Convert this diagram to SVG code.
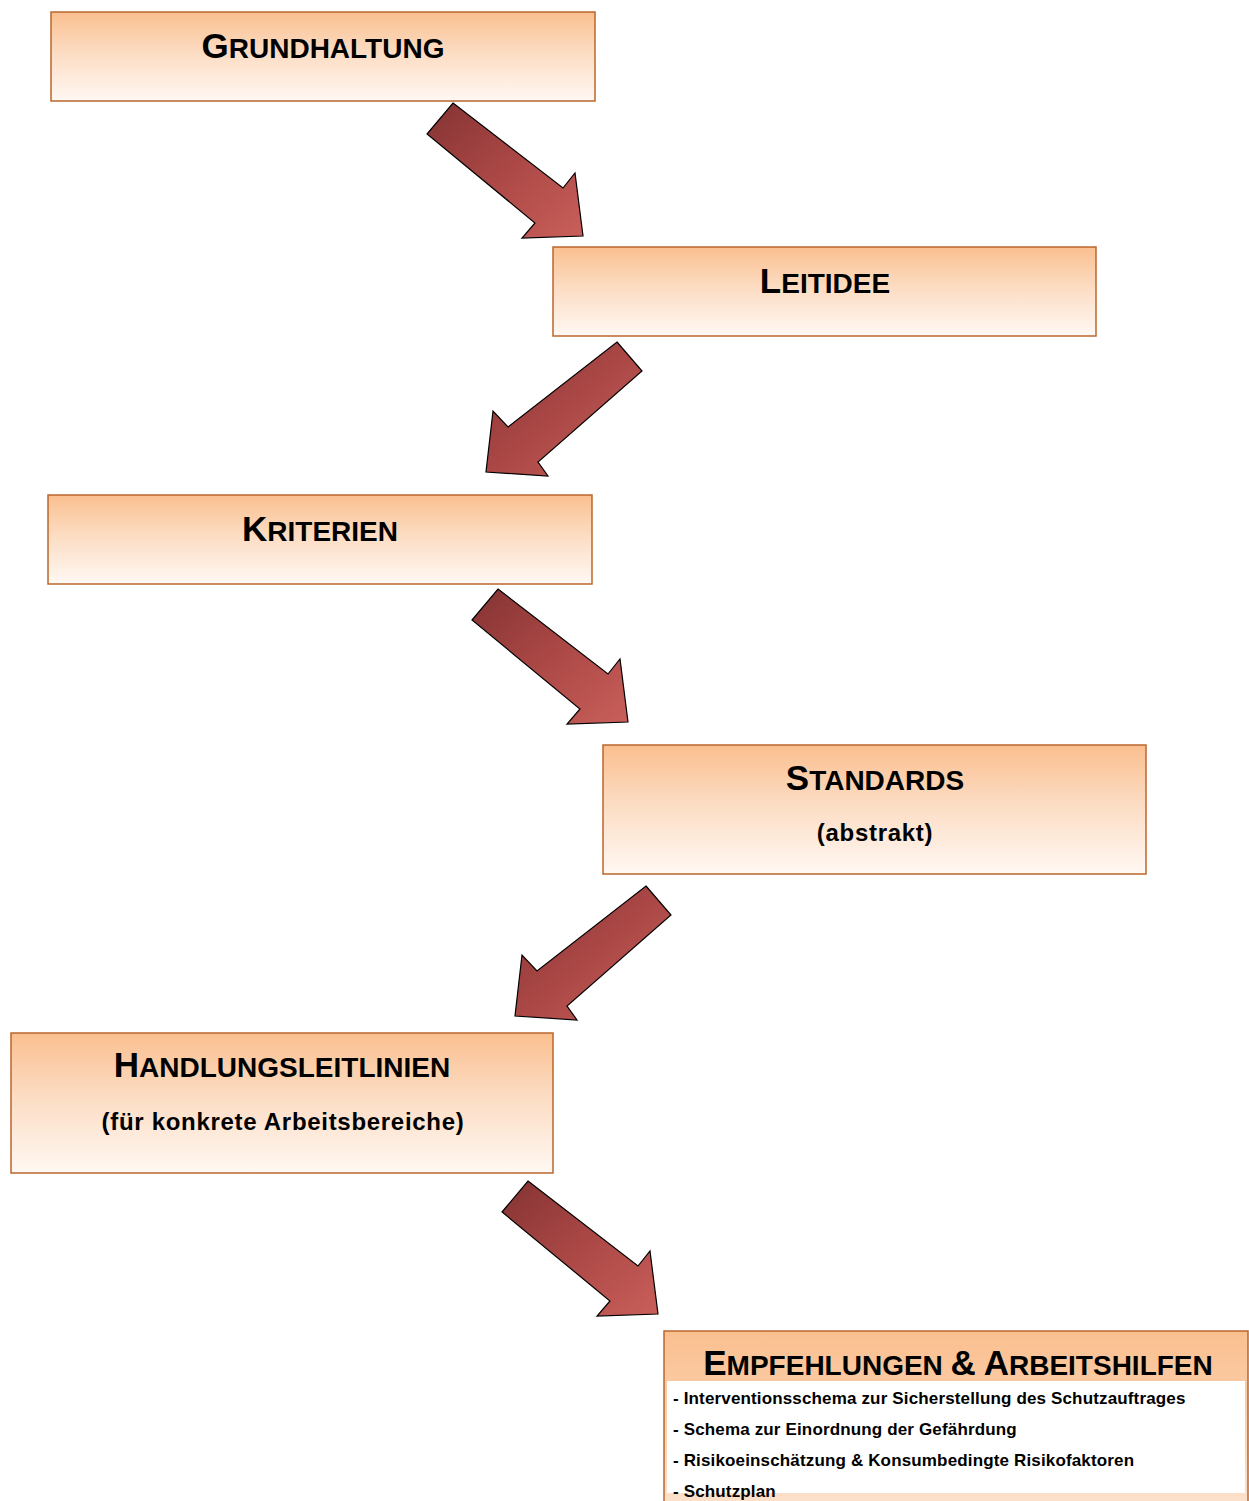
<svg xmlns="http://www.w3.org/2000/svg" width="1249" height="1501" viewBox="0 0 1249 1501">
<defs>
<linearGradient id="boxGrad" x1="0" y1="0" x2="0" y2="1">
<stop offset="0" stop-color="#fabf8f"/>
<stop offset="0.45" stop-color="#fcdcc2"/>
<stop offset="1" stop-color="#fff8f3"/>
</linearGradient>
<linearGradient id="lastGrad" x1="0" y1="0" x2="0" y2="1">
<stop offset="0" stop-color="#fabf8f"/>
<stop offset="1" stop-color="#fde6d4"/>
</linearGradient>
<linearGradient id="arrowGrad" x1="0" y1="0" x2="1" y2="1">
<stop offset="0" stop-color="#843333"/>
<stop offset="0.5" stop-color="#ab4846"/>
<stop offset="1" stop-color="#c95f5a"/>
</linearGradient>
<path id="arrowDR" d="M453,103 L563,188 L575,173 L583,236 L522,238 L535,223 L427,134 Z"/>
<path id="arrowDL" d="M617,342 L642,371 L538,462 L548,476 L486,472 L493,411 L508,427 Z"/>
</defs>
<style>
.box { fill: url(#boxGrad); stroke: #b9672c; stroke-width: 1.5; }
.title { font-family: "Liberation Sans", Arial, sans-serif; font-weight: bold; font-size: 28px; fill: #000; text-anchor: middle; }
.big { font-size: 35px; }
.sub { font-family: "Liberation Sans", Arial, sans-serif; font-weight: bold; font-size: 24px; letter-spacing: 0.7px; fill: #000; text-anchor: middle; }
.item { font-family: "Liberation Sans", Arial, sans-serif; font-weight: bold; font-size: 17px; letter-spacing: 0.15px; fill: #000; }
.arrow { fill: url(#arrowGrad); stroke: #000; stroke-width: 1.2; stroke-linejoin: miter; }
</style>
<rect width="1249" height="1501" fill="#ffffff"/>

<g id="connectors">
<use href="#arrowDR" class="arrow"/>
<use href="#arrowDL" class="arrow"/>
<use href="#arrowDR" class="arrow" transform="translate(45,486)"/>
<use href="#arrowDL" class="arrow" transform="translate(29,544)"/>
<use href="#arrowDR" class="arrow" transform="translate(75,1078)"/>
</g>

<g id="grundhaltung">
<rect class="box" x="51" y="12" width="544" height="89"/>
<text class="title" x="323" y="58"><tspan class="big">G</tspan>RUNDHALTUNG</text>
</g>

<g id="leitidee">
<rect class="box" x="553" y="247" width="543" height="89"/>
<text class="title" x="825" y="293"><tspan class="big">L</tspan>EITIDEE</text>
</g>

<g id="kriterien">
<rect class="box" x="48" y="495" width="544" height="89"/>
<text class="title" x="320" y="541"><tspan class="big">K</tspan>RITERIEN</text>
</g>

<g id="standards">
<rect class="box" x="603" y="745" width="543" height="129"/>
<text class="title" x="875" y="790"><tspan class="big">S</tspan>TANDARDS</text>
<text class="sub" x="875" y="841">(abstrakt)</text>
</g>

<g id="handlungsleitlinien">
<rect class="box" x="11" y="1033" width="542" height="140"/>
<text class="title" x="282" y="1077"><tspan class="big">H</tspan>ANDLUNGSLEITLINIEN</text>
<text class="sub" x="283" y="1130">(für konkrete Arbeitsbereiche)</text>
</g>

<g id="empfehlungen">
<rect x="664" y="1331" width="584" height="200" fill="url(#lastGrad)" stroke="#b9672c" stroke-width="1.5"/>
<rect x="667" y="1381" width="578" height="112" fill="#ffffff"/>
<text class="title" x="958" y="1375"><tspan class="big">E</tspan>MPFEHLUNGEN <tspan class="big">&amp;</tspan> <tspan class="big">A</tspan>RBEITSHILFEN</text>
<text class="item" x="673" y="1404">- Interventionsschema zur Sicherstellung des Schutzauftrages</text>
<text class="item" x="673" y="1435">- Schema zur Einordnung der Gefährdung</text>
<text class="item" x="673" y="1466">- Risikoeinschätzung &amp; Konsumbedingte Risikofaktoren</text>
<text class="item" x="673" y="1497">- Schutzplan</text>
</g>
</svg>
